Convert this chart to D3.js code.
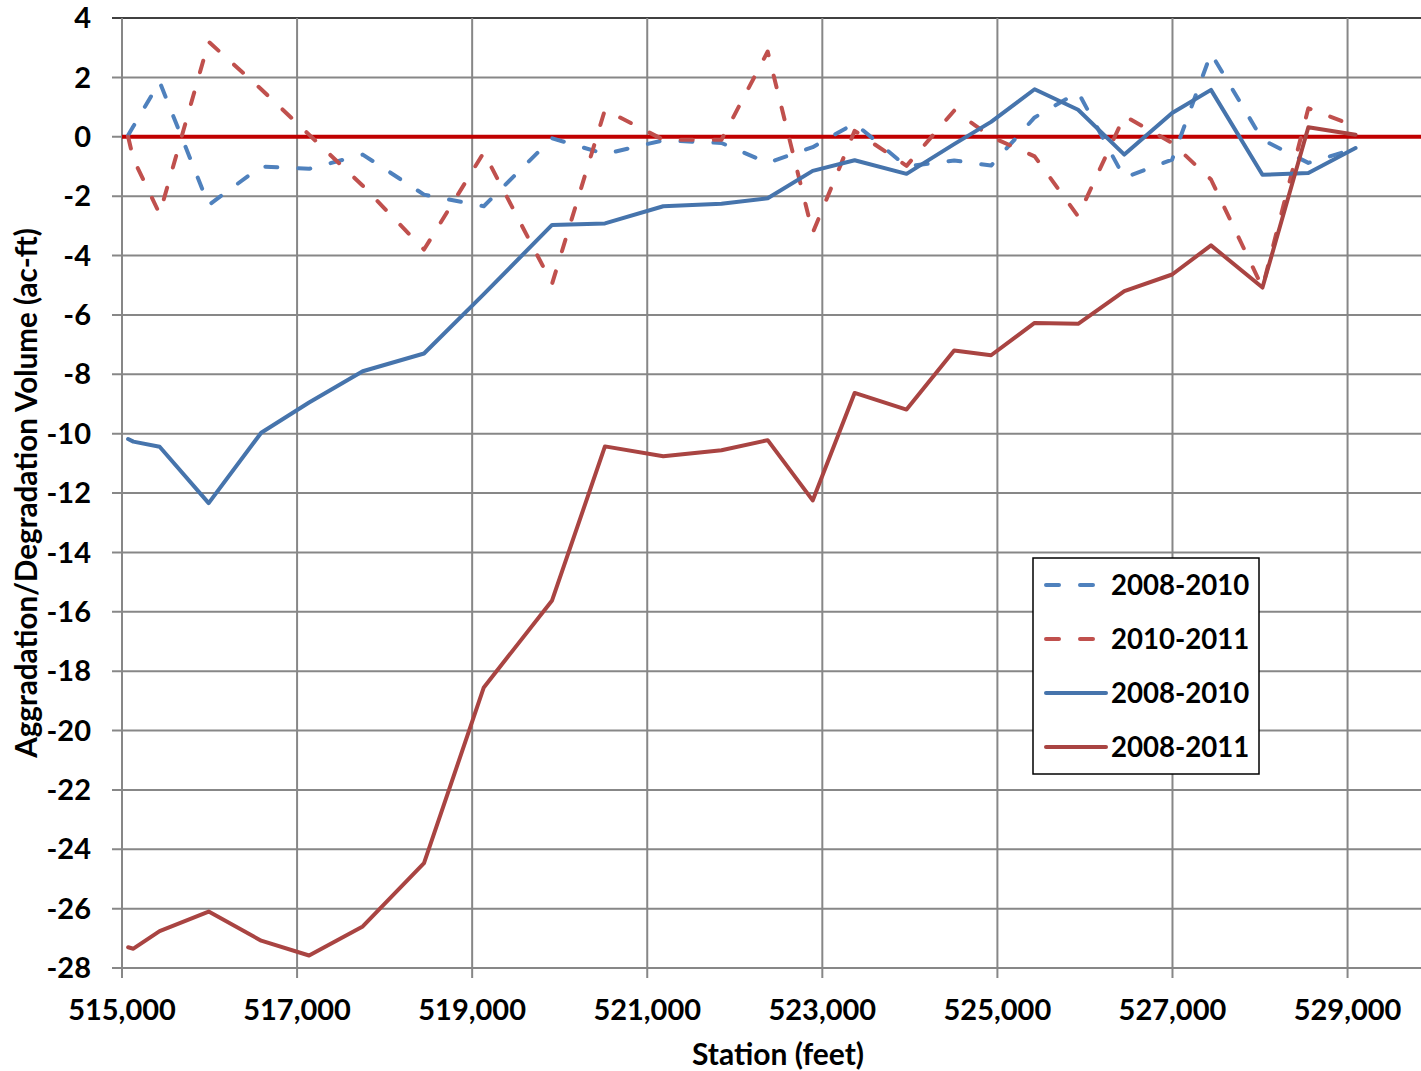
<!DOCTYPE html>
<html>
<head>
<meta charset="utf-8">
<script src="https://cdn.jsdelivr.net/npm/d3@7"></script>
<style>
  body { margin: 0; background: #fff; }
  svg { display: block; font-family: Lato, "Open Sans", sans-serif; font-weight: bold; }
</style>
</head>
<body>
<div id="chart"></div>
<script>
// station (feet) for every cross-section
var stations = [515070, 515130, 515430, 515990, 516590, 517137, 517750, 518450, 519133,
  519913, 520517, 521183, 521848, 522376, 522890, 523369, 523962, 524506, 524928,
  525425, 525922, 526450, 526996, 527440, 528028, 528552, 529091];

// volumes (ac-ft)
var dash0810 = [0.05, 0.35, 1.85, -2.3, -1.0, -1.08, -0.6, -1.95, -2.34,
  -0.05, -0.58, -0.12, -0.21, -0.88, -0.35, 0.45, -1.0, -0.8, -0.97,
  0.65, 1.5, -1.38, -0.77, 2.81, -0.1, -0.88, -0.4];
var dash1011 = [0.0, -0.75, -2.6, 3.2, 1.6, 0.07, -1.65, -3.8, -0.53,
  -4.95, 0.91, -0.1, -0.1, 2.87, -3.24, 0.2, -0.98, 0.88, 0.0,
  -0.66, -2.68, 0.7, -0.21, -1.44, -5.08, 0.96, 0.35];
var solid0810 = [-10.18, -10.27, -10.44, -12.34, -9.97, -8.95, -7.9, -7.3, -5.3,
  -2.97, -2.92, -2.34, -2.26, -2.07, -1.15, -0.79, -1.25, -0.25, 0.5,
  1.6, 0.91, -0.6, 0.8, 1.58, -1.28, -1.22, -0.38];
var solid0811 = [-27.3, -27.35, -26.76, -26.1, -27.08, -27.58, -26.6, -24.47, -18.55,
  -15.62, -10.43, -10.76, -10.56, -10.22, -12.25, -8.63, -9.19, -7.2, -7.36,
  -6.27, -6.3, -5.2, -4.64, -3.66, -5.08, 0.32, 0.07];

var xTicks = [515000, 517000, 519000, 521000, 523000, 525000, 527000, 529000];
var yTicks = [4, 2, 0, -2, -4, -6, -8, -10, -12, -14, -16, -18, -20, -22, -24, -26, -28];

var seriesNames = ["2008-2010", "2010-2011", "2008-2010", "2008-2011"];

var W = 1421, H = 1071;
var margin = {top: 18, left: 122, bottom: 103};
var plotBottom = H - margin.bottom;

var svg = d3.select("#chart").append("svg")
  .attr("width", W)
  .attr("height", H);

// plot runs past the right edge of the picture (cut at 530,000)
var x = d3.scaleLinear()
  .domain([515000, 530000])
  .range([margin.left, margin.left + 15 * 87.54]);

var y = d3.scaleLinear()
  .domain([-28, 4])
  .range([plotBottom, margin.top]);

// gridlines
svg.append("g")
  .selectAll("line.h")
  .data(yTicks)
  .enter().append("line")
  .attr("x1", margin.left - 10)
  .attr("x2", W)
  .attr("y1", function(d) { return y(d); })
  .attr("y2", function(d) { return y(d); })
  .attr("stroke", function(d) { return d === 4 ? "#000" : "#878787"; })
  .attr("stroke-width", function(d) { return d === 4 ? 1.5 : 2; });

svg.append("g")
  .selectAll("line.v")
  .data(xTicks)
  .enter().append("line")
  .attr("x1", function(d) { return x(d); })
  .attr("x2", function(d) { return x(d); })
  .attr("y1", margin.top)
  .attr("y2", plotBottom + 10)
  .attr("stroke", "#878787")
  .attr("stroke-width", 2);

// tick labels
svg.append("g")
  .selectAll("text")
  .data(yTicks)
  .enter().append("text")
  .attr("x", 91)
  .attr("y", function(d) { return y(d); })
  .attr("dy", "0.35em")
  .attr("text-anchor", "end")
  .attr("font-size", 29)
  .text(function(d) { return d; });

svg.append("g")
  .selectAll("text")
  .data(xTicks)
  .enter().append("text")
  .attr("x", function(d) { return x(d); })
  .attr("y", 1010)
  .attr("dy", "0.35em")
  .attr("text-anchor", "middle")
  .attr("font-size", 29)
  .text(d3.format(",d"));

// axis titles
svg.append("text")
  .attr("x", 778)
  .attr("y", 1054)
  .attr("dy", "0.35em")
  .attr("text-anchor", "middle")
  .attr("font-size", 30)
  .text("Station (feet)");

svg.append("text")
  .attr("transform", "translate(27," + 493 + ") rotate(-90)")
  .attr("dy", "0.35em")
  .attr("text-anchor", "middle")
  .attr("font-size", 29.6)
  .text("Aggradation/Degradation Volume (ac-ft)");

// zero line
svg.append("line")
  .attr("x1", margin.left)
  .attr("x2", W)
  .attr("y1", y(0))
  .attr("y2", y(0))
  .attr("stroke", "#C00000")
  .attr("stroke-width", 4);

var series = [
  {name: seriesNames[0], values: dash0810, color: "#4F81BD", dash: "12,21"},
  {name: seriesNames[1], values: dash1011, color: "#C0504D", dash: "12,21"},
  {name: seriesNames[2], values: solid0810, color: "#4674AC", dash: null},
  {name: seriesNames[3], values: solid0811, color: "#A94442", dash: null}
];

var line = d3.line()
  .x(function(d, i) { return x(stations[i]); })
  .y(function(d) { return y(d); });

svg.append("g")
  .selectAll("path")
  .data(series)
  .enter().append("path")
  .attr("d", function(s) { return line(s.values); })
  .attr("fill", "none")
  .attr("stroke", function(s) { return s.color; })
  .attr("stroke-width", 4)
  .attr("stroke-linejoin", "round")
  .attr("stroke-linecap", "round")
  .attr("stroke-dasharray", function(s) { return s.dash; });

// legend
var legend = svg.append("g").attr("transform", "translate(1033,558)");
legend.append("rect")
  .attr("width", 226)
  .attr("height", 216)
  .attr("fill", "#fff")
  .attr("stroke", "#000")
  .attr("stroke-width", 1.5);

var item = legend.selectAll("g.item")
  .data(series)
  .enter().append("g")
  .attr("transform", function(d, i) { return "translate(0," + (27 + i * 54) + ")"; });

item.append("line")
  .attr("x1", 13)
  .attr("x2", 73)
  .attr("stroke", function(s) { return s.color; })
  .attr("stroke-width", 4)
  .attr("stroke-linecap", "round")
  .attr("stroke-dasharray", function(s) { return s.dash ? "13,21" : null; });

item.append("text")
  .attr("x", 78)
  .attr("dy", "0.35em")
  .attr("font-size", 27.6)
  .text(function(s) { return s.name; });
</script>
</body>
</html>
